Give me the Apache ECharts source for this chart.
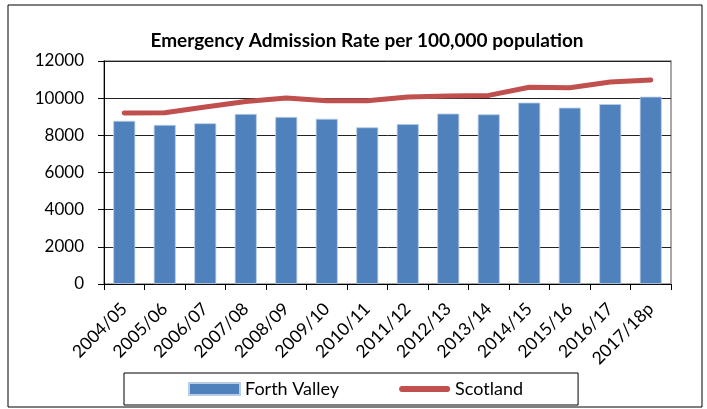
<!DOCTYPE html>
<html><head><meta charset="utf-8">
<script src="https://cdn.jsdelivr.net/npm/echarts@6/dist/echarts.min.js"></script>
<style>html,body{margin:0;padding:0;background:#fff}#c{width:707px;height:409px}</style>
</head><body><div id="c"></div>
<script>
var categories = ['2004/05','2005/06','2006/07','2007/08','2008/09','2009/10','2010/11','2011/12','2012/13','2013/14','2014/15','2015/16','2016/17','2017/18p'];
var forthValley = [8780,8560,8650,9150,8990,8890,8430,8610,9170,9130,9760,9490,9680,10080];
var scotland = [9200,9210,9520,9820,10010,9860,9860,10060,10110,10150,10590,10560,10870,10980];
var yTicks = [0,2000,4000,6000,8000,10000,12000];
var FONT = 'Lato, "Open Sans", sans-serif';
var chart = echarts.init(document.getElementById('c'));
chart.setOption({
  animation:false,
  backgroundColor:'#fff',
  title:{text:'Emergency Admission Rate per 100,000 population',left:362,top:26,textAlign:'center',
    textStyle:{fontFamily:FONT,fontWeight:'bold',fontSize:19,color:'#000'}},
  grid:{left:104,right:36,top:61,bottom:125,show:true,borderColor:'#8c8c8c',borderWidth:1.5},
  legend:{left:124,top:373,itemWidth:51,itemHeight:12,itemGap:60,
    padding:[7,55,7,64],borderColor:'#000',borderWidth:1,
    textStyle:{fontFamily:FONT,fontSize:18,color:'#000'},
    data:[{name:'Forth Valley',icon:'rect'},
          {name:'Scotland',icon:'path://M3,0 L50,0 A3,3 0 0 1 50,6 L3,6 A3,3 0 0 1 3,0 Z'}]},
  xAxis:{type:'category',data:categories,
    axisLine:{lineStyle:{color:'#000',width:1}},
    axisTick:{show:true,length:6,lineStyle:{color:'#000'}},
    axisLabel:{rotate:45,fontFamily:FONT,fontSize:17.5,color:'#000',margin:22,interval:0}},
  yAxis:{type:'value',min:0,max:12000,interval:2000,
    axisLine:{show:true,lineStyle:{color:'#000',width:1}},
    axisTick:{show:true,length:6,lineStyle:{color:'#000'}},
    splitLine:{lineStyle:{color:'#222',width:1}},
    axisLabel:{fontFamily:FONT,fontSize:17,color:'#000',margin:20,
      formatter:function(v){return yTicks.indexOf(v)>=0?String(v):'';}}},
  series:[
    {name:'Forth Valley',type:'bar',data:forthValley,barWidth:22,
      itemStyle:{color:'#4F81BD',borderColor:'#B9CDE5',borderWidth:0.8}},
    {name:'Scotland',type:'line',data:scotland,showSymbol:false,symbol:'none',
      lineStyle:{color:'#C0504D',width:5,cap:'round'},itemStyle:{color:'#C0504D'}}
  ],
  graphic:[{type:'rect',shape:{x:8,y:5,width:694,height:402},style:{fill:'none',stroke:'#000',lineWidth:1},silent:true}]
});
</script></body></html>
